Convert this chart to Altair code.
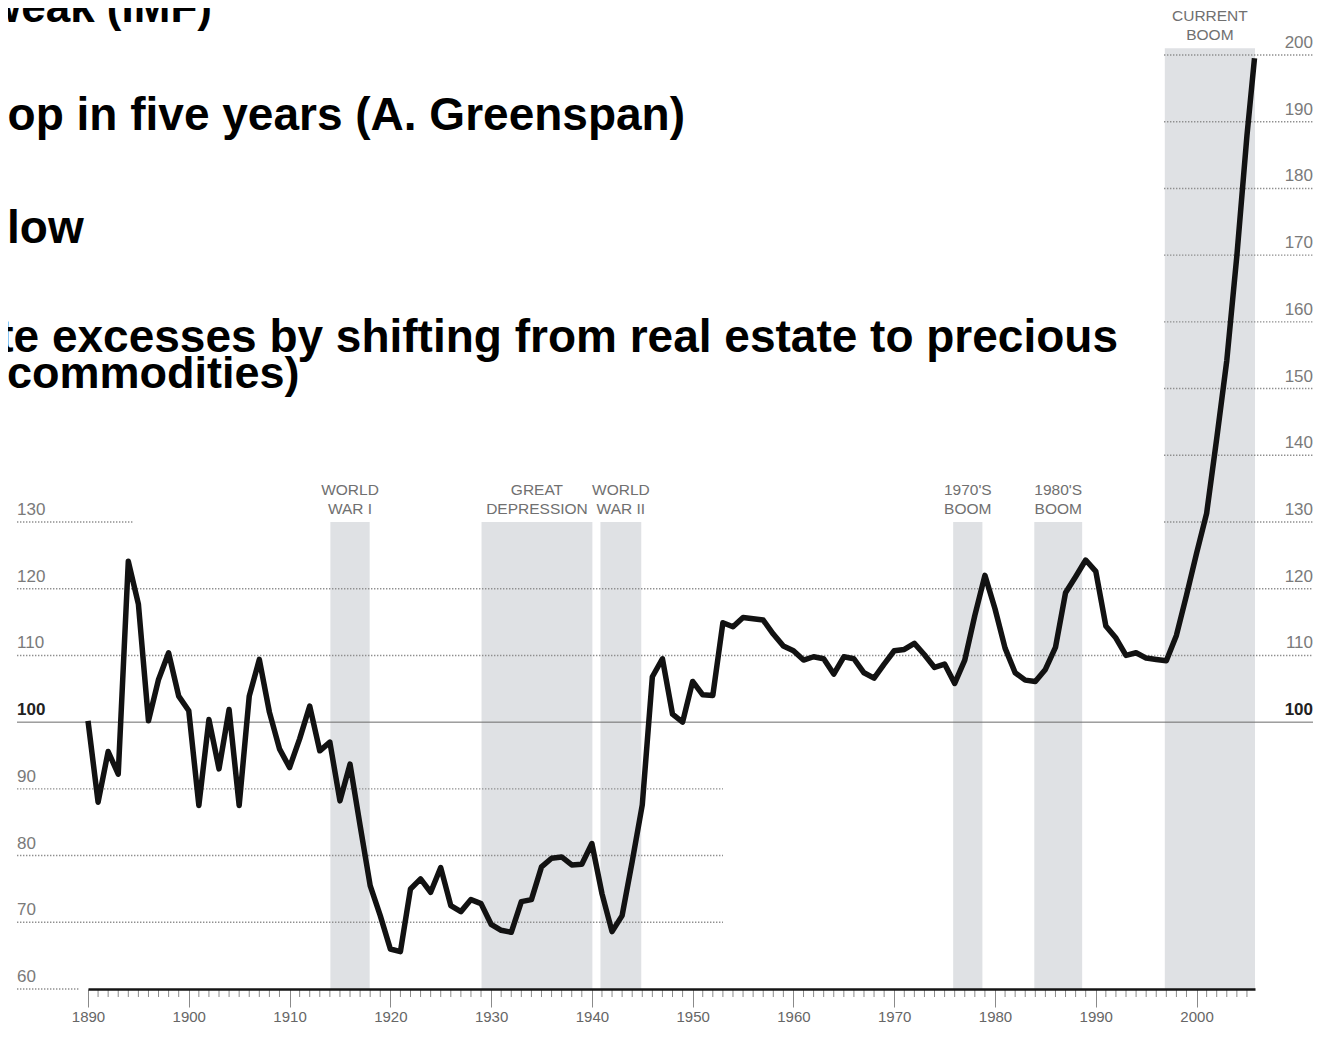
import altair as alt
import pandas as pd

# ---------------- data ----------------
years = list(range(1890, 2006)) + [2005.75]
index = [
    100.2, 88.0, 95.6, 92.2, 124.1, 117.7, 100.2, 106.4, 110.4, 103.9,   # 1890-1899
    101.7, 87.5, 100.4, 93.0, 101.9, 87.5, 103.9, 109.4, 101.5, 96.0,    # 1900-1909
    93.2, 97.5, 102.4, 95.7, 97.0, 88.2, 93.7, 84.5, 75.5, 71.0,         # 1910-1919
    66.0, 65.6, 75.0, 76.5, 74.5, 78.2, 72.5, 71.6, 73.4, 72.8,          # 1920-1929
    69.7, 68.8, 68.5, 73.1, 73.4, 78.3, 79.6, 79.8, 78.6, 78.7,          # 1930-1939
    81.8, 74.3, 68.6, 71.0, 79.1, 87.6, 106.8, 109.5, 101.2, 100.0,      # 1940-1949
    106.1, 104.1, 104.0, 114.9, 114.3, 115.7, 115.5, 115.3, 113.2, 111.4,  # 1950-1959
    110.7, 109.3, 109.8, 109.5, 107.2, 109.8, 109.5, 107.4, 106.6, 108.7,  # 1960-1969
    110.7, 110.9, 111.8, 110.1, 108.2, 108.7, 105.8, 109.3, 116.0, 122.0,  # 1970-1979
    117.0, 111.1, 107.4, 106.3, 106.1, 107.9, 111.2, 119.4, 121.8, 124.3,  # 1980-1989
    122.6, 114.4, 112.6, 110.0, 110.4, 109.6, 109.4, 109.2, 113.0, 119.0,  # 1990-1999
    125.3, 131.3, 142.5, 154.2, 169.9, 187.9,                             # 2000-2005
    199.5,                                                                 # latest
]

band_line1 = ["WORLD", "GREAT", "WORLD", "1970'S", "1980'S", "CURRENT"]
band_line2 = ["WAR I", "DEPRESSION", "WAR II", "BOOM", "BOOM", "BOOM"]
band_start = [1914.05, 1929.05, 1940.85, 1975.85, 1983.9, 1996.85]
band_end = [1917.95, 1940.05, 1944.9, 1978.75, 1988.65, 2005.8]
band_top = [130, 130, 130, 130, 130, 201]

left_ticks = [60, 70, 80, 90, 110, 120, 130]
right_ticks = [110, 120, 130, 140, 150, 160, 170, 180, 190, 200]

decade_years = list(range(1890, 2001, 10))
minor_years = [y for y in range(1890, 2006) if y % 10 != 0]

headline = [
    "weak (IMF)",
    "op in five years (A. Greenspan)",
    "low",
    "te excesses by shifting from real estate to precious",
    "commodities)",
]

# ---------------- layout ----------------
X0, X1 = 1890, 2005.8
Y0, Y1 = 60, 200
W, H = 1167, 934
PX_PER_YEAR = W / (X1 - X0)
PX_PER_UNIT = H / (Y1 - Y0)
PLOT_LEFT_PAGE, PLOT_TOP_PAGE = 88, 55


def page_x(px):
    return X0 + (px - PLOT_LEFT_PAGE) / PX_PER_YEAR


def page_y(py):
    return Y1 - (py - PLOT_TOP_PAGE) / PX_PER_UNIT


GRID_L = page_x(17)
GRID_R = page_x(1313)
GRID_MID = page_x(723)
GRID_BOOM = page_x(1164)

seg_value = [60, 70, 80, 90, 110, 120, 130, 130] + [140, 150, 160, 170, 180, 190, 200]
seg_start = [GRID_L] * 7 + [GRID_BOOM] + [GRID_BOOM] * 7
seg_end = [page_x(80), GRID_MID, GRID_MID, GRID_MID, GRID_R, GRID_R, page_x(133), GRID_R] + [GRID_R] * 7

# headline: (anchor page x, alignment, baseline page y, size)
head_anchor_page = [-13, 685, 7, 1118, 7]
head_align = ["left", "right", "left", "right", "left"]
head_base_page = [22, 130, 243, 352, 388]
head_size = [44, 46, 46, 46, 45]

FONT = "Liberation Sans"
BOLD_FONT = "Liberation Sans"

XS = alt.Scale(domain=[X0, X1], nice=False, zero=False)
YS = alt.Scale(domain=[Y0, Y1], nice=False, zero=False)

AX = alt.Axis(
    values=decade_years,
    format="d",
    tickSize=18,
    tickColor="#8a8a8a", tickWidth=1,
    domainColor="#151515", domainWidth=2.5,
    labelFont=FONT, labelFontSize=15, labelColor="#666666",
    labelPadding=2, labelOverlap=False, labelFlush=False,
    grid=False, title=None, zindex=1,
)

series = pd.DataFrame({"year": years, "index": index})
bands = pd.DataFrame({"start": band_start, "end": band_end, "top": band_top,
                      "l1": band_line1, "l2": band_line2})
bands["mid"] = (bands["start"] + bands["end"]) / 2
segs = pd.DataFrame({"v": seg_value, "s": seg_start, "e": seg_end})
left_lab = pd.DataFrame({"v": left_ticks, "x": GRID_L, "t": [str(v) for v in left_ticks]})
right_lab = pd.DataFrame({"v": right_ticks, "x": GRID_R, "t": [str(v) for v in right_ticks]})
hundred = pd.DataFrame({"v": [100, 100], "x": [GRID_L, GRID_R], "xe": [GRID_R, GRID_R],
                        "t": ["100", "100"]})
minor = pd.DataFrame({"year": minor_years})
heads = pd.DataFrame({"t": headline,
                      "x": [page_x(p) for p in head_anchor_page],
                      "y": [page_y(p) for p in head_base_page],
                      "a": head_align,
                      "s": head_size})


def X(field):
    return alt.X(field, scale=XS, axis=AX)


def Y(field):
    return alt.Y(field, scale=YS, axis=None)


band_rect = alt.Chart(bands).mark_rect(color="#dfe1e4").encode(
    x=X("start:Q"), x2="end:Q", y=Y("top:Q"), y2=alt.datum(60),
)

band_text = alt.Chart(bands).transform_calculate(
    lab="[datum.l1, datum.l2]"
).mark_text(font=FONT, fontSize=15.5, color="#707070", align="center",
            baseline="alphabetic", dy=-27, lineHeight=19).encode(
    x=X("mid:Q"), y=Y("top:Q"), text="lab:N",
)

grid = alt.Chart(segs).mark_rule(color="#8f8f8f", strokeWidth=1.4, strokeDash=[1.4, 1.6]).encode(
    x=X("s:Q"), x2="e:Q", y=Y("v:Q"),
)

base100 = alt.Chart(hundred.iloc[[0]]).mark_rule(color="#6a6a6a", strokeWidth=1).encode(
    x=X("x:Q"), x2="xe:Q", y=Y("v:Q"),
)

minor_ticks = alt.Chart(minor).mark_rule(color="#8a8a8a", strokeWidth=1).encode(
    x=X("year:Q"), y=alt.value(H), y2=alt.value(H + 8),
)

lt = alt.Chart(left_lab).mark_text(font=FONT, fontSize=17, color="#7a7a7a", align="left",
                                   baseline="alphabetic", dy=-7).encode(
    x=X("x:Q"), y=Y("v:Q"), text="t:N")
rt = alt.Chart(right_lab).mark_text(font=FONT, fontSize=17, color="#7a7a7a", align="right",
                                    baseline="alphabetic", dy=-7).encode(
    x=X("x:Q"), y=Y("v:Q"), text="t:N")
h_left = alt.Chart(hundred.iloc[[0]]).mark_text(font=FONT, fontSize=17, fontWeight="bold", color="#222",
                                                align="left", baseline="alphabetic", dy=-7).encode(
    x=X("x:Q"), y=Y("v:Q"), text="t:N")
h_right = alt.Chart(hundred.iloc[[1]]).mark_text(font=FONT, fontSize=17, fontWeight="bold", color="#222",
                                                 align="right", baseline="alphabetic", dy=-7).encode(
    x=X("x:Q"), y=Y("v:Q"), text="t:N")

line = alt.Chart(series).mark_line(color="#121212", strokeWidth=5.5, strokeJoin="round").encode(
    x=X("year:Q"), y=Y("index:Q"),
)

heads_right = alt.Chart(heads).transform_filter("datum.a == 'right'").mark_text(
    font=BOLD_FONT, fontWeight="bold", color="#000",
    align="right", baseline="alphabetic").encode(
    x=X("x:Q"), y=Y("y:Q"), text="t:N", size=alt.Size("s:Q", scale=None, legend=None))
heads_left = alt.Chart(heads).transform_filter("datum.a == 'left'").mark_text(
    font=BOLD_FONT, fontWeight="bold", color="#000",
    align="left", baseline="alphabetic").encode(
    x=X("x:Q"), y=Y("y:Q"), text="t:N", size=alt.Size("s:Q", scale=None, legend=None))

chart = alt.layer(
    band_rect, band_text, grid, base100, minor_ticks, lt, rt, h_left, h_right, line,
    heads_right, heads_left,
).properties(
    width=W, height=H,
    autosize=alt.AutoSizeParams(type="none"),
    padding={"left": 80, "top": 47, "right": 61, "bottom": 36},
    background="white",
).configure_view(stroke=None)

chart.save("out.html", embed_options={"renderer": "svg", "actions": False})
